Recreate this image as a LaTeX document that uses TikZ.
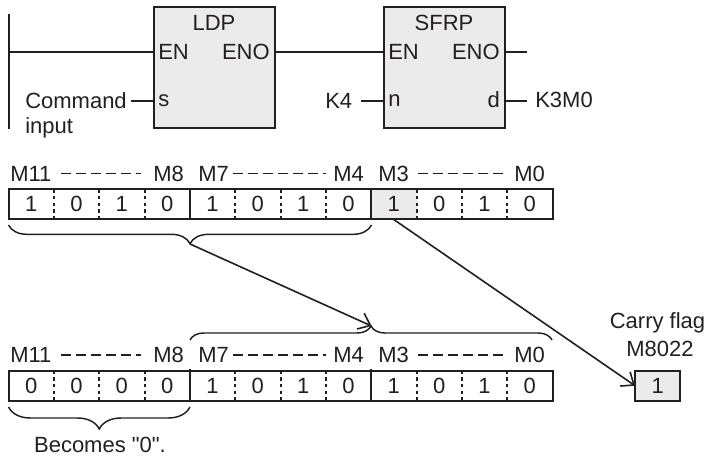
\documentclass[tikz,border=0pt]{standalone}
\usepackage{fontspec}
\setmainfont[Ligatures=TeXOff]{Liberation Sans}
\usetikzlibrary{positioning,arrows.meta,decorations.pathreplacing}
\definecolor{tinta}{HTML}{231F20}
\definecolor{gris}{HTML}{EBEBEB}

\begin{document}
\begin{tikzpicture}[
      x=0.75pt, y=-0.75pt,
      every node/.style={font=\fontsize{16.5pt}{18pt}\selectfont, text=tinta, inner sep=0pt},
      fblock/.style={draw=tinta, line width=1.5pt, fill=gris, minimum width=90.75pt, minimum height=90.5pt, outer sep=0pt},
      bitcell/.style={minimum width=34pt, minimum height=22.5pt, outer sep=0pt},
      wire/.style={draw=tinta, line width=1.5pt},
      frame/.style={draw=tinta, line width=1.5pt},
      dotbar/.style={draw=tinta, line width=1.5pt, dash pattern=on 2.6pt off 2.4pt},
      bitrange/.style={draw=tinta, line width=1.1pt, dash pattern=on 7.5pt off 3.7pt},
      bracket/.style={draw=tinta, line width=1.1pt, decorate, decoration={brace, aspect=0.5}},
      arrow/.style={-{Straight Barb[length=8pt, width=13pt]}, draw=tinta, line width=1.2pt}
    ]
      \useasboundingbox (0,0) rectangle (707,459);

      % function blocks
      \node[fblock] (ldp) at (214.5,67.3) {};
      \node[fblock] (sfrp) at (444.3,67.3) {};
      \node (ldpname) at (214,23) {LDP};
      \node (sfrpname) at (444,23) {SFRP};
      \node[anchor=west] (ldpen) at (158,52) {EN};
      \node[anchor=east] (ldpeno) at (270,52) {ENO};
      \node[anchor=west] (ldps) at (158,101) {s};
      \node[anchor=west] (sfrpen) at (388,52) {EN};
      \node[anchor=east] (sfrpeno) at (500,52) {ENO};
      \node[anchor=west] (sfrpn) at (388,101) {n};
      \node[anchor=east] (sfrpd) at (500,100) {d};
      \node[anchor=west] (command) at (25,101) {Command};
      \node[anchor=west] (input) at (25,128) {input};
      \node[anchor=west] (kfour) at (325,101) {K4};
      \node[anchor=west] (kthree) at (535,100) {K3M0};

      \coordinate (railtop) at (8.5,14);
      \coordinate (railbottom) at (8.5,129);
      \coordinate (railen) at (8.5,52);
      \coordinate (enoend) at (527,52);
      \coordinate (dend) at (527,101.5);
      \coordinate (sstart) at (131,101.5);
      \coordinate (nstart) at (361,101.5);
      \draw[wire] (railtop) -- (railbottom);
      \draw[wire] (railen) -- (ldp.west |- railen);
      \draw[wire] (ldp.east |- railen) -- (sfrp.west |- railen);
      \draw[wire] (sfrp.east |- railen) -- (enoend);
      \draw[wire] (sstart) -- (ldp.west |- sstart);
      \draw[wire] (nstart) -- (sfrp.west |- nstart);
      \draw[wire] (sfrp.east |- dend) -- (dend);

      % register before the shift
      \node[bitcell, anchor=north west] (a1) at (8.5,189.3) {1};
      \node[bitcell, right=0pt of a1] (a2) {0};
      \node[bitcell, right=0pt of a2] (a3) {1};
      \node[bitcell, right=0pt of a3] (a4) {0};
      \node[bitcell, right=0pt of a4] (a5) {1};
      \node[bitcell, right=0pt of a5] (a6) {0};
      \node[bitcell, right=0pt of a6] (a7) {1};
      \node[bitcell, right=0pt of a7] (a8) {0};
      \node[bitcell, fill=gris, right=0pt of a8] (a9) {1};
      \node[bitcell, right=0pt of a9] (a10) {0};
      \node[bitcell, right=0pt of a10] (a11) {1};
      \node[bitcell, right=0pt of a11] (a12) {0};
      \draw[frame] (a1.north west) rectangle (a12.south east);
      \draw[frame] (a4.north east) -- (a4.south east) (a8.north east) -- (a8.south east);
      \draw[dotbar] (a1.north east) -- (a1.south east) (a2.north east) -- (a2.south east) (a3.north east) -- (a3.south east);
      \draw[dotbar] (a5.north east) -- (a5.south east) (a6.north east) -- (a6.south east) (a7.north east) -- (a7.south east);
      \draw[dotbar] (a9.north east) -- (a9.south east) (a10.north east) -- (a10.south east) (a11.north east) -- (a11.south east);

      \node[anchor=west] (amel) at (10,173.5) {M11};
      \node[anchor=west] (amocho) at (153,173.5) {M8};
      \node[anchor=west] (amsiete) at (198,173.5) {M7};
      \node[anchor=west] (amcuatro) at (333,173.5) {M4};
      \node[anchor=west] (amtres) at (378,173.5) {M3};
      \node[anchor=west] (amcero) at (514,173.5) {M0};
      \draw[bitrange] ([xshift=7pt]amel.east) -- ([xshift=-9pt]amocho.west);
      \draw[bitrange] ([xshift=3pt]amsiete.east) -- ([xshift=-5pt]amcuatro.west);
      \draw[bitrange] ([xshift=7pt]amtres.east) -- ([xshift=-8pt]amcero.west);

      % register after the shift
      \node[bitcell, anchor=north west] (b1) at (8.5,370.7) {0};
      \node[bitcell, right=0pt of b1] (b2) {0};
      \node[bitcell, right=0pt of b2] (b3) {0};
      \node[bitcell, right=0pt of b3] (b4) {0};
      \node[bitcell, right=0pt of b4] (b5) {1};
      \node[bitcell, right=0pt of b5] (b6) {0};
      \node[bitcell, right=0pt of b6] (b7) {1};
      \node[bitcell, right=0pt of b7] (b8) {0};
      \node[bitcell, right=0pt of b8] (b9) {1};
      \node[bitcell, right=0pt of b9] (b10) {0};
      \node[bitcell, right=0pt of b10] (b11) {1};
      \node[bitcell, right=0pt of b11] (b12) {0};
      \draw[frame] (b1.north west) rectangle (b12.south east);
      \draw[frame] ([yshift=1pt]b4.north east) -- (b4.south east) ([yshift=1pt]b8.north east) -- (b8.south east);
      \draw[dotbar] (b1.north east) -- (b1.south east) (b2.north east) -- (b2.south east) (b3.north east) -- (b3.south east);
      \draw[dotbar] (b5.north east) -- (b5.south east) (b6.north east) -- (b6.south east) (b7.north east) -- (b7.south east);
      \draw[dotbar] (b9.north east) -- (b9.south east) (b10.north east) -- (b10.south east) (b11.north east) -- (b11.south east);

      \node[anchor=west] (bmel) at (10,355) {M11};
      \node[anchor=west] (bmocho) at (153,355) {M8};
      \node[anchor=west] (bmsiete) at (198,355) {M7};
      \node[anchor=west] (bmcuatro) at (333,355) {M4};
      \node[anchor=west] (bmtres) at (378,355) {M3};
      \node[anchor=west] (bmcero) at (514,355) {M0};
      \draw[bitrange] ([xshift=7pt]bmel.east) -- ([xshift=-9pt]bmocho.west);
      \draw[bitrange] ([xshift=3pt]bmsiete.east) -- ([xshift=-5pt]bmcuatro.west);
      \draw[bitrange] ([xshift=7pt]bmtres.east) -- ([xshift=-8pt]bmcero.west);

      % carry flag
      \node[bitcell, draw=tinta, line width=1.5pt, fill=gris, anchor=north west] (carry) at (635,370.7) {1};
      \node (carryname) at (657.5,323) {Carry flag};
      \node (carryaddr) at (660,349) {M8022};

      % braces and arrows
      \coordinate (topright) at (371.5,225);
      \coordinate (topleft) at (8.5,225);
      \coordinate (toptip) at (190,244);
      \coordinate (shiftright) at (552,340);
      \coordinate (shiftleft) at (190,340);
      \coordinate (shifttip) at (371.5,326);
      \coordinate (lowright) at (190,407);
      \coordinate (lowleft) at (8.5,407);
      \coordinate (carryfrom) at (393,219);
      \draw[bracket, decoration={amplitude=14pt}] (topright) -- (topleft);
      \draw[bracket, decoration={amplitude=10.5pt}] (shiftleft) -- (shiftright);
      \draw[bracket, decoration={amplitude=16.5pt}] (lowright) -- (lowleft);
      \draw[arrow] (toptip) -- (shifttip);
      \draw[arrow] (carryfrom) -- (carry.west);
      \node (becomes) at (100,445) {Becomes "0".};
    \end{tikzpicture}
\end{document}
